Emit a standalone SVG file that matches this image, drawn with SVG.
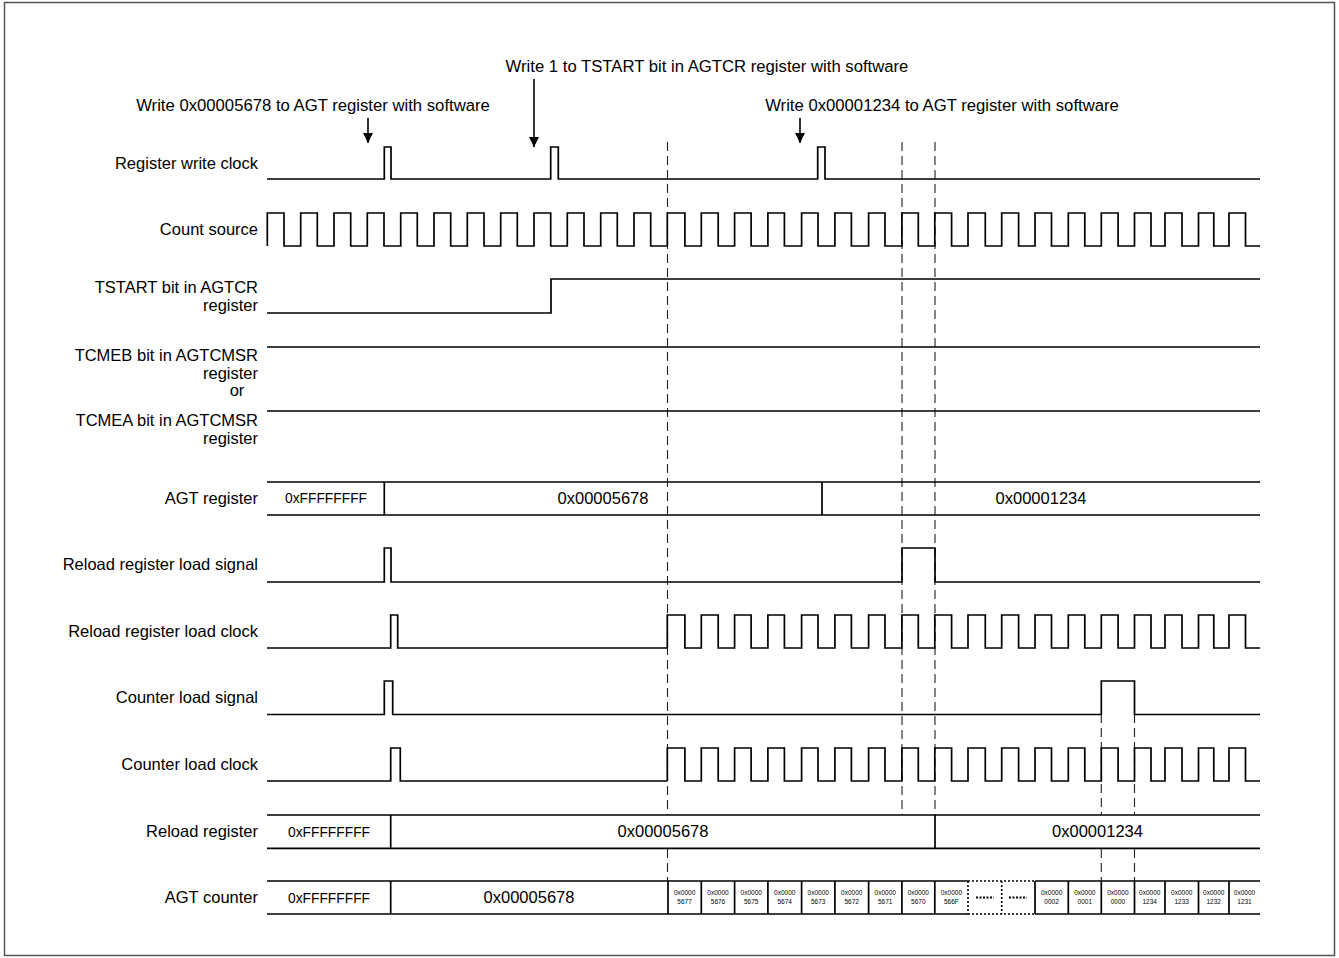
<svg xmlns="http://www.w3.org/2000/svg" xmlns:xlink="http://www.w3.org/1999/xlink" width="1339" height="958" viewBox="0 0 1339 958">
<style>
text{font-family:"Liberation Sans",Arial,sans-serif;fill:#000}
.lbl{font-size:16.5px;text-anchor:end}
.hdr{font-size:16.7px;text-anchor:middle}
.big{font-size:16.5px;text-anchor:middle}
.ff{font-size:13.8px;text-anchor:middle}
.sm{font-size:6.5px;text-anchor:middle}
.w{fill:none;stroke:#000;stroke-width:1.7}
.dash{fill:none;stroke:#222;stroke-width:1.1;stroke-dasharray:9 5}
.dot{fill:none;stroke:#000;stroke-width:1.6;stroke-dasharray:2 2}
</style>
<defs>
<marker id="ah" viewBox="0 0 10 10" refX="10" refY="5" markerWidth="10" markerHeight="10" markerUnits="userSpaceOnUse" orient="auto">
<path d="M0,0 L10,5 L0,10 z" fill="#000"/>
</marker>
<path id="clk2" class="w" d="M667.3,33 V0 H684.9 V33 H701.3 V0 H718.2 V33 H734.6 V0 H751.1 V33 H767.9 V0 H784.4 V33 H801.6 V0 H818 V33 H834.9 V0 H851.4 V33 H868.6 V0 H885 V33 H901.9 V0 H918.3 V33 H934.8 V0 H951.6 V33 H968 V0 H985.3 V33 H1001.7 V0 H1018.6 V33 H1035 V0 H1051.5 V33 H1068.3 V0 H1084.8 V33 H1101.3 V0 H1118.1 V33 H1134.5 V0 H1151 V33 H1165 V0 H1182 V33 H1198.5 V0 H1213.8 V33 H1229 V0 H1245.5 V33 H1260"/>
</defs>
<rect x="4.5" y="2.5" width="1330" height="953" fill="#fff" stroke="#555" stroke-width="1.5"/>

<g id="annotations">
<text class="hdr" x="313" y="111">Write 0x00005678 to AGT register with software</text>
<text class="hdr" x="707" y="72">Write 1 to TSTART bit in AGTCR register with software</text>
<text class="hdr" x="942" y="111">Write 0x00001234 to AGT register with software</text>
</g>

<g id="labels">
<text class="lbl" x="258" y="169">Register write clock</text>
<text class="lbl" x="258" y="235">Count source</text>
<text class="lbl" x="258" y="293">TSTART bit in AGTCR</text>
<text class="lbl" x="258" y="311">register</text>
<text class="lbl" x="258" y="361">TCMEB bit in AGTCMSR</text>
<text class="lbl" x="258" y="379">register</text>
<text x="237" y="396" style="font-size:16.5px;text-anchor:middle">or</text>
<text class="lbl" x="258" y="426">TCMEA bit in AGTCMSR</text>
<text class="lbl" x="258" y="444">register</text>
<text class="lbl" x="258" y="504">AGT register</text>
<text class="lbl" x="258" y="570">Reload register load signal</text>
<text class="lbl" x="258" y="637">Reload register load clock</text>
<text class="lbl" x="258" y="703">Counter load signal</text>
<text class="lbl" x="258" y="770">Counter load clock</text>
<text class="lbl" x="258" y="837">Reload register</text>
<text class="lbl" x="258" y="903">AGT counter</text>
</g>

<g id="connectors">
<line x1="368" y1="118" x2="368" y2="143" stroke="#000" stroke-width="1.6" marker-end="url(#ah)"/>
<line x1="534" y1="79" x2="534" y2="147" stroke="#000" stroke-width="1.6" marker-end="url(#ah)"/>
<line x1="800" y1="118" x2="800" y2="143" stroke="#000" stroke-width="1.6" marker-end="url(#ah)"/>
<path class="dash" d="M667.5,142 V815 M667.5,849 V881"/>
<line class="dash" x1="902" y1="142" x2="902" y2="815"/>
<line class="dash" x1="935" y1="142" x2="935" y2="815"/>
<path class="dash" d="M1101.3,714 V815 M1101.3,849 V881"/>
<path class="dash" d="M1134.5,714 V815 M1134.5,849 V881"/>
</g>

<g id="register-write-clock">
<path class="w" d="M267,179 H384.3 V147 H391 V179 H550.7 V147 H558.3 V179 H817.7 V147 H825 V179 H1260"/>
</g>

<g id="count-source">
<path class="w" d="M267.3,246 V213 H284 V246 H300.7 V213 H317.3 V246 H334 V213 H350.7 V246 H367.3 V213 H384 V246 H400.7 V213 H417.3 V246 H434 V213 H450.7 V246 H467.3 V213 H484 V246 H500.7 V213 H517.3 V246 H534 V213 H550.7 V246 H567.3 V213 H584 V246 H600.7 V213 H617.3 V246 H634 V213 H650.7 V246 H667.3"/>
<use xlink:href="#clk2" href="#clk2" transform="translate(0,213)"/>
</g>

<g id="tstart">
<path class="w" d="M267,313 H551 V279 H1260"/>
</g>

<g id="tcmeb">
<path class="w" d="M267,347 H1260"/>
</g>

<g id="tcmea">
<path class="w" d="M267,411 H1260"/>
</g>

<g id="agt-register">
<path class="w" d="M267,482 H1260 M267,515 H1260 M384.3,482 V515 M822,482 V515"/>
<text class="ff" x="326" y="503">0xFFFFFFFF</text>
<text class="big" x="603" y="504">0x00005678</text>
<text class="big" x="1041" y="504">0x00001234</text>
</g>

<g id="reload-load-signal">
<path class="w" d="M267,582 H384.3 V548 H391 V582 H902 V548 H935 V582 H1260"/>
</g>

<g id="reload-load-clock">
<path class="w" d="M267,648 H390.7 V615 H397.7 V648 H667.3"/>
<use xlink:href="#clk2" href="#clk2" transform="translate(0,615)"/>
</g>

<g id="counter-load-signal">
<path class="w" d="M267,714.5 H384.3 V681 H392.7 V714.5 H1101.3 V681 H1134.5 V714.5 H1260"/>
</g>

<g id="counter-load-clock">
<path class="w" d="M267,781 H390.7 V748 H400.3 V781 H667.3"/>
<use xlink:href="#clk2" href="#clk2" transform="translate(0,748)"/>
</g>

<g id="reload-register">
<path class="w" d="M267,815 H1260 M267,848.3 H1260 M390.7,815 V848.3 M935,815 V848.3"/>
<text class="ff" x="329" y="837">0xFFFFFFFF</text>
<text class="big" x="663" y="837">0x00005678</text>
<text class="big" x="1097.5" y="837">0x00001234</text>
</g>

<g id="agt-counter">
<path class="w" d="M267,881 H968 M1035,881 H1260 M267,914 H968 M1035,914 H1260 M390.7,881 V914 M668,881 V914 M701.3,881 V914 M734.6,881 V914 M767.9,881 V914 M801.6,881 V914 M834.9,881 V914 M868.6,881 V914 M901.9,881 V914 M934.8,881 V914 M1035,881 V914 M1068.3,881 V914 M1101.3,881 V914 M1134.5,881 V914 M1165,881 V914 M1198.5,881 V914 M1229,881 V914"/>
<path class="dot" d="M968,881 H1035 M968,914 H1035 M968,881 V914 M1001.7,881 V914"/>
<path d="M976,897.5 H994 M1009,897.5 H1027" fill="none" stroke="#000" stroke-width="2" stroke-dasharray="2 1.5"/>
<text class="ff" x="329" y="903">0xFFFFFFFF</text>
<text class="big" x="529" y="903">0x00005678</text>
<g class="sm">
<text class="sm" x="684.6" y="895">0x0000</text><text class="sm" x="684.6" y="904">5677</text>
<text class="sm" x="718" y="895">0x0000</text><text class="sm" x="718" y="904">5676</text>
<text class="sm" x="751.2" y="895">0x0000</text><text class="sm" x="751.2" y="904">5675</text>
<text class="sm" x="784.7" y="895">0x0000</text><text class="sm" x="784.7" y="904">5674</text>
<text class="sm" x="818.2" y="895">0x0000</text><text class="sm" x="818.2" y="904">5673</text>
<text class="sm" x="851.7" y="895">0x0000</text><text class="sm" x="851.7" y="904">5672</text>
<text class="sm" x="885.2" y="895">0x0000</text><text class="sm" x="885.2" y="904">5671</text>
<text class="sm" x="918.3" y="895">0x0000</text><text class="sm" x="918.3" y="904">5670</text>
<text class="sm" x="951.4" y="895">0x0000</text><text class="sm" x="951.4" y="904">566F</text>
<text class="sm" x="1051.6" y="895">0x0000</text><text class="sm" x="1051.6" y="904">0002</text>
<text class="sm" x="1084.8" y="895">0x0000</text><text class="sm" x="1084.8" y="904">0001</text>
<text class="sm" x="1117.9" y="895">0x0000</text><text class="sm" x="1117.9" y="904">0000</text>
<text class="sm" x="1149.7" y="895">0x0000</text><text class="sm" x="1149.7" y="904">1234</text>
<text class="sm" x="1181.7" y="895">0x0000</text><text class="sm" x="1181.7" y="904">1233</text>
<text class="sm" x="1213.7" y="895">0x0000</text><text class="sm" x="1213.7" y="904">1232</text>
<text class="sm" x="1244.5" y="895">0x0000</text><text class="sm" x="1244.5" y="904">1231</text>
</g>
</g>
</svg>
